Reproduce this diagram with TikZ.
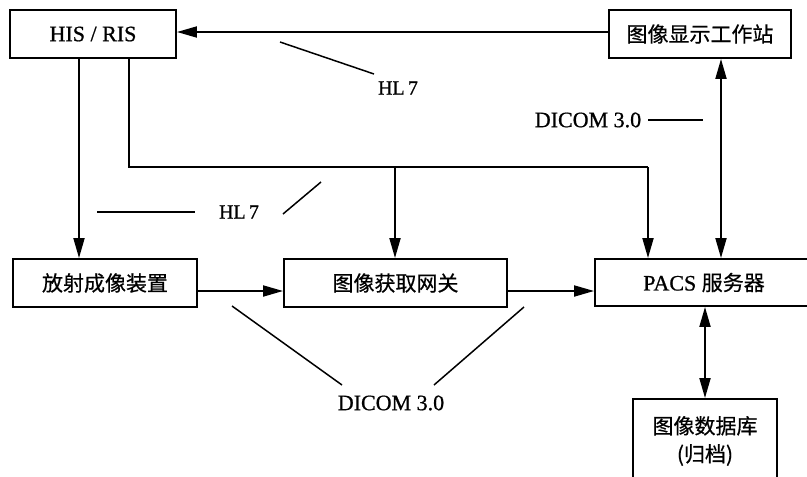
\documentclass[tikz,border=0pt]{standalone}
\usepackage{fontspec}
\setmainfont{Liberation Serif}[FakeBold=0.8]
\newfontfamily\cjk{Noto Sans CJK SC}[FakeBold=0.6]
\usetikzlibrary{arrows.meta}
\tikzset{
  box/.style={draw, line width=1.9pt, rectangle, inner sep=0pt, font=\fontsize{22}{25}\selectfont},
  conn/.style={line width=1.9pt},
  tip/.tip={Triangle[length=20pt,width=11pt]},
  arr/.style={conn, -tip},
  arrtwo/.style={conn, tip-tip},
  lead/.style={line width=1.5pt},
  lbl/.style={inner sep=0pt, font=\fontsize{22}{25}\selectfont}
}
\begin{document}
\begin{tikzpicture}[x=1pt,y=-1pt]
\useasboundingbox (0,0) rectangle (807,477);
\clip (0,0) rectangle (807,477);
% boxes
\node[box, minimum width=166pt, minimum height=48pt] (his) at (93,34) {HIS / RIS};
\node[box, minimum width=182pt, minimum height=48pt] (ws) at (700,34) {\fontsize{21}{24}\selectfont\cjk 图像显示工作站};
\node[box, minimum width=184pt, minimum height=48pt] (rad) at (105,283) {\fontsize{21}{24}\selectfont\cjk 放射成像装置};
\node[box, minimum width=223pt, minimum height=48pt] (gw) at (395.5,283) {\fontsize{21}{24}\selectfont\cjk 图像获取网关};
\node[box, minimum width=218pt, minimum height=47pt] (pacs) at (704,282.5) {PACS {\fontsize{21}{24}\selectfont\cjk 服务器}};
\node[box, minimum width=144pt, minimum height=84pt, align=center, font=\fontsize{21}{24}\selectfont\cjk] (db) at (705,441) {图像数据库\\[4pt](归档)};
% junctions
\coordinate (j1) at (129,167);
\coordinate (j2) at (395,167);
\coordinate (j3) at (648,167);
\coordinate (xa) at (79,0);
\coordinate (xb) at (721,0);
\coordinate (yr) at (0,291);
% connectors
\draw[arr] ([yshift=2pt]ws.west) -- ([yshift=2pt]his.east);
\draw[arr] (his.south -| xa) -- (rad.north -| xa);
\draw[conn] (his.south -| j1) -- (j1) -- (j3);
\draw[arr] (j3) -- (pacs.north -| j3);
\draw[arr] (j2) -- (gw.north -| j2);
\draw[arrtwo] (ws.south -| xb) -- (pacs.north -| xb);
\draw[arr] (rad.east |- yr) -- (gw.west |- yr);
\draw[arr] (gw.east |- yr) -- (pacs.west |- yr);
\draw[arrtwo] (pacs.south -| db.north) -- (db.north);
% labels
\node[lbl, font=\fontsize{20}{24}\selectfont] (hla) at (398,88) {HL\,7};
\node[lbl, font=\fontsize{20}{24}\selectfont] (hlb) at (239,212) {HL\,7};
\node[lbl] (dca) at (588,120) {DICOM 3.0};
\node[lbl] (dcb) at (391,403) {DICOM 3.0};
% leader lines
\coordinate (la1) at (280,42);
\coordinate (la2) at (374,74);
\draw[lead] (la1) -- (la2);
\coordinate (lb1) at (97,212);
\coordinate (lb2) at (195,212);
\draw[lead] (lb1) -- (lb2);
\coordinate (lb3) at (283,214);
\coordinate (lb4) at (321,182);
\draw[lead] (lb3) -- (lb4);
\coordinate (lc1) at (648,120);
\coordinate (lc2) at (703,120);
\draw[lead] (lc1) -- (lc2);
\coordinate (ld1) at (232,306);
\coordinate (ld2) at (342,385);
\draw[lead] (ld1) -- (ld2);
\coordinate (ld3) at (524,307);
\coordinate (ld4) at (434,385);
\draw[lead] (ld3) -- (ld4);
\end{tikzpicture}
\end{document}
